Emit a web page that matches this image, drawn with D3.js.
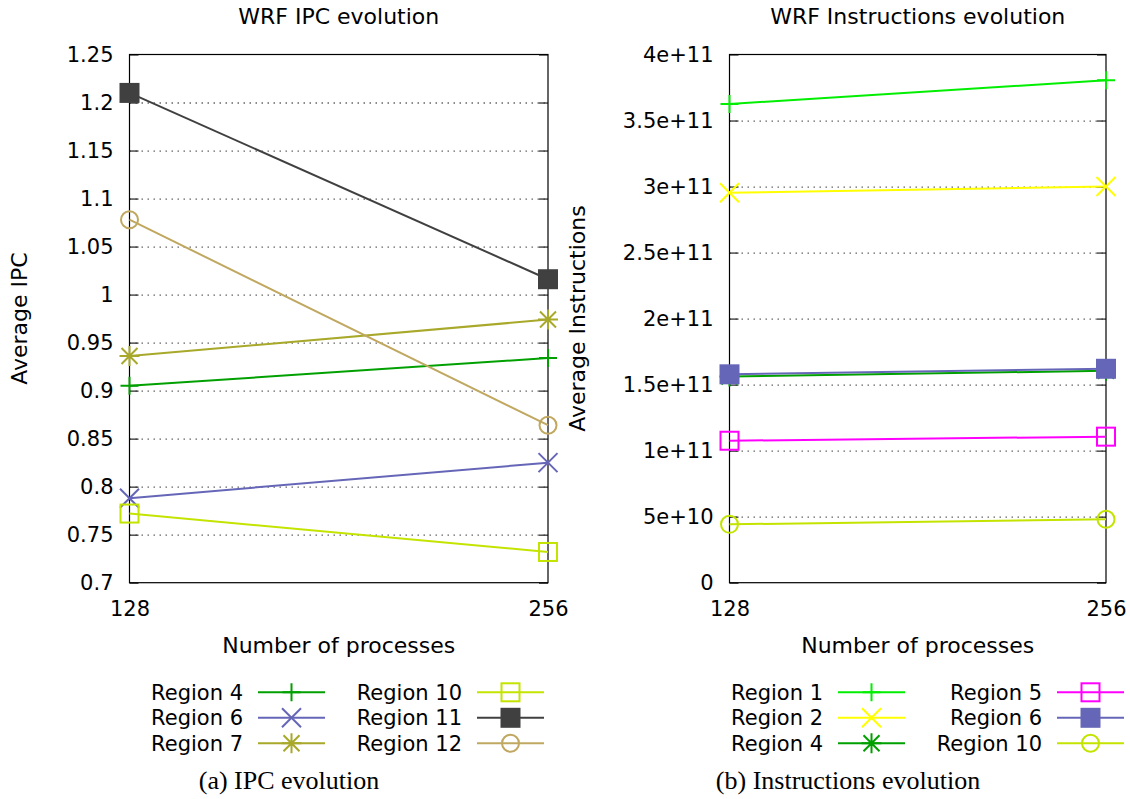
<!DOCTYPE html>
<html>
<head>
<meta charset="utf-8">
<script src="https://cdn.jsdelivr.net/npm/d3@7"></script>
<style>
  body { margin: 0; background: #fff; }
  svg { display: block; font-family: "DejaVu Sans", sans-serif; }
  .caption { font-family: "Liberation Serif", serif; }
</style>
</head>
<body>
<svg id="chart" width="1130" height="799"></svg>
<script>
// x categories (number of processes)
var procs = [128, 256];

// IPC per region (left chart)
var ipcRegion4 = [0.905, 0.934];
var ipcRegion6 = [0.788, 0.825];
var ipcRegion7 = [0.936, 0.974];
var ipcRegion10 = [0.772, 0.732];
var ipcRegion11 = [1.210, 1.016];
var ipcRegion12 = [1.078, 0.864];
var ipcTicks = [0.7, 0.75, 0.8, 0.85, 0.9, 0.95, 1, 1.05, 1.1, 1.15, 1.2, 1.25];

// instructions per region (right chart)
var insRegion1 = [3.625e11, 3.805e11];
var insRegion2 = [2.953e11, 3.0e11];
var insRegion4 = [1.561e11, 1.605e11];
var insRegion5 = [1.075e11, 1.106e11];
var insRegion6 = [1.578e11, 1.620e11];
var insRegion10 = [0.442e11, 0.48e11];
var insTicks = [0, 5e10, 1e11, 1.5e11, 2e11, 2.5e11, 3e11, 3.5e11, 4e11];
var insTickLabels = ['0', '5e+10', '1e+11', '1.5e+11', '2e+11', '2.5e+11', '3e+11', '3.5e+11', '4e+11'];

var ipcSeries = [
  { name: 'Region 4', values: ipcRegion4, color: '#00a000', symbol: 'plus' },
  { name: 'Region 6', values: ipcRegion6, color: '#6666b8', symbol: 'cross' },
  { name: 'Region 7', values: ipcRegion7, color: '#a8a82a', symbol: 'star' },
  { name: 'Region 10', values: ipcRegion10, color: '#c4e400', symbol: 'square' },
  { name: 'Region 11', values: ipcRegion11, color: '#404040', symbol: 'squareFilled' },
  { name: 'Region 12', values: ipcRegion12, color: '#c0a860', symbol: 'circle' }
];
var insSeries = [
  { name: 'Region 1', values: insRegion1, color: '#00ee00', symbol: 'plus' },
  { name: 'Region 2', values: insRegion2, color: '#ffff00', symbol: 'cross' },
  { name: 'Region 4', values: insRegion4, color: '#00a000', symbol: 'star' },
  { name: 'Region 5', values: insRegion5, color: '#ff00ff', symbol: 'square' },
  { name: 'Region 6', values: insRegion6, color: '#6666b8', symbol: 'squareFilled' },
  { name: 'Region 10', values: insRegion10, color: '#c4e400', symbol: 'circle' }
];

var svg = d3.select('#chart');
svg.append('rect').attr('width', 1130).attr('height', 799).attr('fill', '#fff');

var FONT = 21, LABEL_FONT = 22;
var TOP = 54.5, BOTTOM = 582.7;

// draw a gnuplot-like point symbol centred on (0,0)
function drawSymbol(g, type, color) {
  var s = 9;
  if (type === 'plus') {
    g.append('path').attr('d', `M${-s},0H${s}M0,${-s}V${s}`);
  } else if (type === 'cross') {
    var c = 9.5;
    g.append('path').attr('d', `M${-c},${-c}L${c},${c}M${-c},${c}L${c},${-c}`);
  } else if (type === 'star') {
    var t = 10, d = 8;
    g.append('path').attr('d', `M${-t},0H${t}M0,${-t}V${t}M${-d},${-d}L${d},${d}M${-d},${d}L${d},${-d}`);
  } else if (type === 'square') {
    g.append('rect').attr('x', -s).attr('y', -s).attr('width', 2 * s).attr('height', 2 * s).attr('fill', 'none');
  } else if (type === 'squareFilled') {
    g.append('rect').attr('x', -s).attr('y', -s).attr('width', 2 * s).attr('height', 2 * s).attr('fill', color);
  } else if (type === 'circle') {
    g.append('circle').attr('r', 8.5).attr('fill', 'none');
  }
  g.attr('stroke', color).attr('stroke-width', 2);
}

function drawPanel(opts) {
  var x = d3.scaleLinear().domain([128, 256]).range([opts.left, opts.right]);
  var y = d3.scaleLinear().domain(opts.domain).range([BOTTOM, TOP]);
  var w = opts.right - opts.left;
  var g = svg.append('g');

  // dotted grid
  g.append('g')
    .attr('transform', `translate(${opts.left},0)`)
    .call(d3.axisLeft(y).tickValues(opts.ticks.slice(1, -1)).tickSize(-w).tickFormat(''))
    .call(a => a.select('.domain').remove())
    .call(a => a.selectAll('line').attr('stroke', '#666').attr('stroke-width', 1.3).attr('stroke-dasharray', '1.5,4.5'));

  // y axis with inward ticks and labels
  g.append('g')
    .attr('transform', `translate(${opts.left},0)`)
    .call(d3.axisLeft(y).tickValues(opts.ticks).tickSizeInner(-9).tickSizeOuter(0).tickPadding(16)
      .tickFormat((d, i) => opts.labels[i]))
    .call(a => a.select('.domain').remove())
    .call(a => a.selectAll('line').attr('stroke', '#333').attr('stroke-width', 1.3))
    .call(a => a.selectAll('text').attr('font-size', FONT).attr('fill', '#000').attr('font-family', 'DejaVu Sans'));

  // mirrored ticks on the right
  g.append('g')
    .attr('transform', `translate(${opts.right},0)`)
    .call(d3.axisRight(y).tickValues(opts.ticks).tickSizeInner(-9).tickSizeOuter(0).tickFormat(''))
    .call(a => a.select('.domain').remove())
    .call(a => a.selectAll('line').attr('stroke', '#333').attr('stroke-width', 1.3));

  // x axis labels
  g.append('g')
    .attr('transform', `translate(0,${BOTTOM})`)
    .call(d3.axisBottom(x).tickValues(procs).tickSize(0).tickPadding(18).tickFormat(d3.format('d')))
    .call(a => a.select('.domain').remove())
    .call(a => a.selectAll('text').attr('font-size', FONT).attr('fill', '#000').attr('font-family', 'DejaVu Sans'));

  // frame
  g.append('rect')
    .attr('x', opts.left).attr('y', TOP)
    .attr('width', w).attr('height', BOTTOM - TOP)
    .attr('fill', 'none').attr('stroke', '#000').attr('stroke-width', 1.2);

  // series
  var line = d3.line().x((d, i) => x(procs[i])).y(d => y(d));
  opts.series.forEach(s => {
    g.append('path').datum(s.values)
      .attr('d', line).attr('fill', 'none')
      .attr('stroke', s.color).attr('stroke-width', 2);
    s.values.forEach((v, i) => {
      var m = g.append('g').attr('transform', `translate(${x(procs[i])},${y(v)})`);
      drawSymbol(m, s.symbol, s.color);
    });
  });

  // titles
  var cx = (opts.left + opts.right) / 2;
  g.append('text').attr('x', cx).attr('y', 24).attr('text-anchor', 'middle')
    .attr('font-size', LABEL_FONT).text(opts.title);
  g.append('text').attr('x', cx).attr('y', 653).attr('text-anchor', 'middle')
    .attr('font-size', LABEL_FONT).text('Number of processes');
  g.append('text')
    .attr('transform', `translate(${opts.ylabelX},${(TOP + BOTTOM) / 2})rotate(-90)`)
    .attr('text-anchor', 'middle').attr('dy', '0.35em')
    .attr('font-size', LABEL_FONT).text(opts.ylabel);

  // legend: two columns of three
  opts.series.forEach((s, i) => {
    var col = Math.floor(i / 3), row = i % 3;
    var ly = 692.3 + row * 25.5;
    var tx = opts.legendText[col];
    g.append('text').attr('x', tx).attr('y', ly).attr('dy', '0.36em')
      .attr('text-anchor', 'end').attr('font-size', FONT).text(s.name);
    var x0 = tx + 15, x1 = tx + 82;
    g.append('line').attr('x1', x0).attr('x2', x1).attr('y1', ly).attr('y2', ly)
      .attr('stroke', s.color).attr('stroke-width', 2);
    drawSymbol(g.append('g').attr('transform', `translate(${(x0 + x1) / 2},${ly})`), s.symbol, s.color);
  });

  // caption
  svg.append('text').attr('class', 'caption')
    .attr('x', opts.captionX).attr('y', 789).attr('text-anchor', 'middle')
    .attr('font-size', 26).text(opts.caption);
}

drawPanel({
  left: 129.5, right: 548, domain: [0.7, 1.25],
  ticks: ipcTicks, labels: ipcTicks.map(d => String(d)),
  series: ipcSeries, title: 'WRF IPC evolution', ylabel: 'Average IPC', ylabelX: 19,
  legendText: [243, 462], caption: '(a) IPC evolution', captionX: 289
});

drawPanel({
  left: 729.5, right: 1106, domain: [0, 4e11],
  ticks: insTicks, labels: insTickLabels,
  series: insSeries, title: 'WRF Instructions evolution', ylabel: 'Average Instructions', ylabelX: 577,
  legendText: [823, 1042], caption: '(b) Instructions evolution', captionX: 848
});
</script>
</body>
</html>
